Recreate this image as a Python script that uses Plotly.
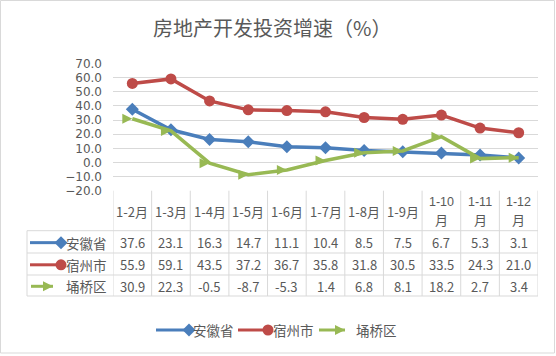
import plotly.graph_objects as go

categories = ["1-2月", "1-3月", "1-4月", "1-5月", "1-6月", "1-7月", "1-8月", "1-9月", "1-10月", "1-11月", "1-12月"]
series_names = ["安徽省", "宿州市", "埇桥区"]
anhui = [37.6, 23.1, 16.3, 14.7, 11.1, 10.4, 8.5, 7.5, 6.7, 5.3, 3.1]
suzhou = [55.9, 59.1, 43.5, 37.2, 36.7, 35.8, 31.8, 30.5, 33.5, 24.3, 21.0]
yongqiao = [30.9, 22.3, -0.5, -8.7, -5.3, 1.4, 6.8, 8.1, 18.2, 2.7, 3.4]
y_ticks = [-20, -10, 0, 10, 20, 30, 40, 50, 60, 70]

series_values = [anhui, suzhou, yongqiao]
colors = ["#4A7EBB", "#BE4B48", "#98B954"]
symbols = ["diamond", "circle", "arrow-right"]
msizes = [10, 11, 10]

W, H = 556, 356
PL, PR, PT, PB = 113, 538, 63.5, 190.7  # plot area pixels
FONT = "Noto Sans CJK SC"
NUMFONT = "DejaVu Sans"
TXT = "#595959"
GRID = "#D9D9D9"

fig = go.Figure()
xs = list(range(len(categories)))
for name, vals, c, s, ms in zip(series_names, series_values, colors, symbols, msizes):
    fig.add_trace(go.Scatter(
        x=xs, y=vals, name=name, mode="lines+markers",
        line=dict(color=c, width=3.5),
        marker=dict(symbol=s, size=ms, color=c, line=dict(width=0, color=c)),
        showlegend=False, xaxis="x", yaxis="y", cliponaxis=False,
    ))

# table rows layout (pixels)
row_tops = [PB, 230.7, 253, 275, 296]
row_label_left = 27
row_centers = [(row_tops[i + 1] + row_tops[i + 2]) / 2 + 0.8 for i in range(3)]

key_lines = [(30, 61), (30, 61), (31, 53)]
for i, (name, c, s, ms) in enumerate(zip(series_names, colors, symbols, msizes)):
    yc = row_centers[i]
    x0, x1 = key_lines[i]
    fig.add_trace(go.Scatter(x=[x0, x1], y=[yc, yc], mode="lines", line=dict(color=c, width=3),
                             showlegend=False, xaxis="x2", yaxis="y2", hoverinfo="skip"))
    fig.add_trace(go.Scatter(x=[x1], y=[yc], mode="markers", marker=dict(symbol=s, size=ms, color=c),
                             showlegend=False, xaxis="x2", yaxis="y2", hoverinfo="skip"))
    fig.add_annotation(x=109, y=yc, xref="x2", yref="y2", text=name, showarrow=False,
                       xanchor="right", yanchor="middle", font=dict(family=FONT, size=13.5, color=TXT))

# bottom legend
leg_y = 330
leg_items = [(156, 189, 191), (238, 268, 271), (319, 345, 354)]
for (x0, x1, tx), name, c, s, ms in zip(leg_items, series_names, colors, symbols, msizes):
    fig.add_trace(go.Scatter(x=[x0, x1], y=[leg_y, leg_y], mode="lines", line=dict(color=c, width=3),
                             showlegend=False, xaxis="x2", yaxis="y2", hoverinfo="skip"))
    fig.add_trace(go.Scatter(x=[x1], y=[leg_y], mode="markers", marker=dict(symbol=s, size=ms, color=c),
                             showlegend=False, xaxis="x2", yaxis="y2", hoverinfo="skip"))
    fig.add_annotation(x=tx, y=leg_y, xref="x2", yref="y2", text=name, showarrow=False,
                       xanchor="left", yanchor="middle", font=dict(family=FONT, size=13.5, color=TXT))

# table header: long labels wrap as "1-10" / "月"
header_mid = (row_tops[0] + row_tops[1]) / 2 + 0.5
for i, lab in enumerate(categories):
    if len(lab) > 4:
        fig.add_annotation(x=i, y=202, xref="x", yref="y2", text=lab[:-1],
                           showarrow=False, xanchor="center", yanchor="middle",
                           font=dict(family="Liberation Sans", size=12.5, color=TXT))
        fig.add_annotation(x=i, y=219.5, xref="x", yref="y2", text=lab[-1],
                           showarrow=False, xanchor="center", yanchor="middle",
                           font=dict(family=FONT, size=13, color=TXT))
    else:
        fig.add_annotation(x=i, y=header_mid, xref="x", yref="y2", text=lab,
                           showarrow=False, xanchor="center", yanchor="middle",
                           font=dict(family=FONT, size=13, color=TXT))
for r, vals in enumerate(series_values):
    for i, v in enumerate(vals):
        fig.add_annotation(x=i, y=row_centers[r], xref="x", yref="y2", text=f"{v:.1f}",
                           showarrow=False, xanchor="center", yanchor="middle",
                           font=dict(family=FONT, size=13, color=TXT))

shapes = []
line_style = dict(color=GRID, width=1)
for k in range(len(categories) + 1):
    shapes.append(dict(type="line", xref="x", yref="y2", x0=k - 0.5, x1=k - 0.5,
                       y0=row_tops[0], y1=row_tops[-1], line=line_style))
shapes.append(dict(type="line", xref="x2", yref="y2", x0=row_label_left, x1=row_label_left,
                   y0=row_tops[1], y1=row_tops[-1], line=line_style))
for yt in row_tops[1:]:
    shapes.append(dict(type="line", xref="x2", yref="y2", x0=row_label_left, x1=PR,
                       y0=yt, y1=yt, line=line_style))
shapes.append(dict(type="rect", xref="x2", yref="y2", x0=0.5, x1=W - 1.5, y0=0.5, y1=H - 3,
                   line=dict(color="#D9D9D9", width=1)))

fig.update_layout(
    template="none",
    width=W, height=H,
    margin=dict(l=0, r=0, t=0, b=0, pad=0, autoexpand=False),
    paper_bgcolor="white", plot_bgcolor="rgba(0,0,0,0)",
    font=dict(family=FONT, color=TXT),
    xaxis=dict(domain=[PL / W, PR / W], range=[-0.5, len(categories) - 0.5], visible=False,
               showgrid=False, zeroline=False, fixedrange=True, automargin=False),
    yaxis=dict(domain=[(H - PB) / H, (H - PT) / H], range=[-20, 70], tickvals=y_ticks,
               tickformat=".1f", showgrid=True, gridcolor=GRID, gridwidth=1, zeroline=False,
               showline=False, ticks="", ticklabelstandoff=10, automargin=False,
               tickfont=dict(family=NUMFONT, size=12, color=TXT)),
    xaxis2=dict(domain=[0, 1], range=[0, W], visible=False, anchor="y2", automargin=False),
    yaxis2=dict(domain=[0, 1], range=[H, 0], visible=False, anchor="x2", automargin=False),
    shapes=shapes,
    showlegend=False,
)
fig.add_annotation(x=272, y=27.5, xref="x2", yref="y2", text="房地产开发投资增速（%）", showarrow=False,
                   xanchor="center", yanchor="middle", font=dict(family=FONT, size=20, color=TXT))

fig.write_html("out.html", config={"displayModeBar": False},
               post_script="document.body.style.margin='0';document.body.style.overflow='hidden';")
